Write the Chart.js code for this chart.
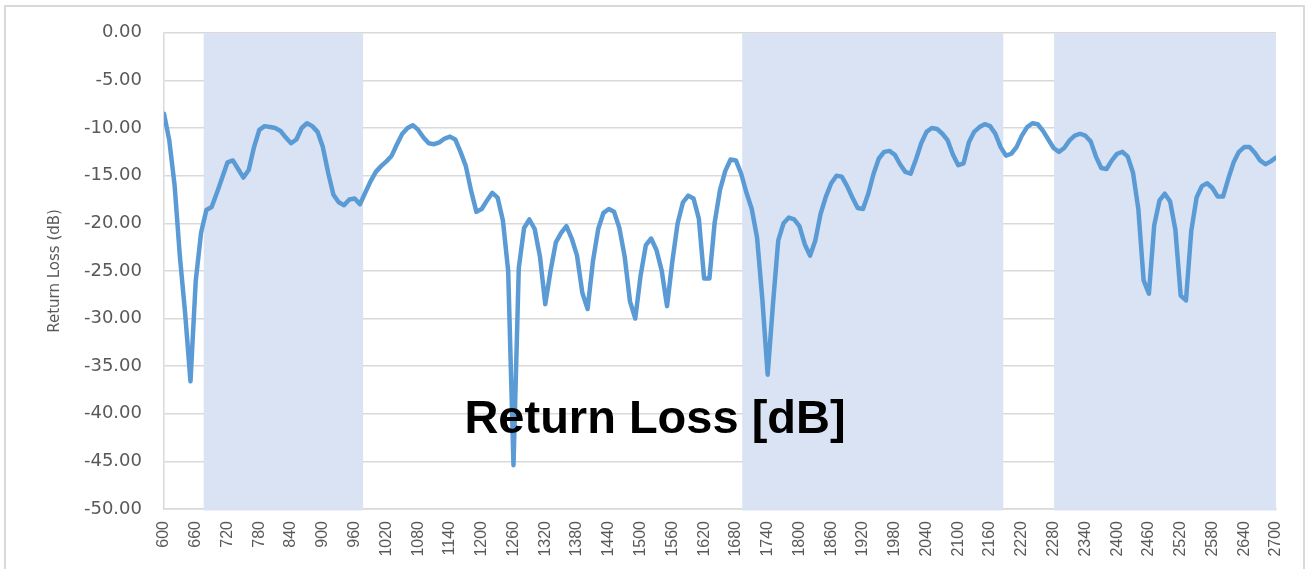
<!DOCTYPE html>
<html>
<head>
<meta charset="utf-8">
<script src="https://cdn.jsdelivr.net/npm/chart.js@4/dist/chart.umd.min.js"></script>
<style>
html,body{margin:0;padding:0;background:#fff;}
#wrap{position:relative;width:1309px;height:569px;}
</style>
</head>
<body>
<div id="wrap"><canvas id="c" width="1309" height="569"></canvas></div>
<script>
const frequencies = [
 600,610,620,630,640,650,660,670,680,690,
 700,710,720,730,740,750,760,770,780,790,
 800,810,820,830,840,850,860,870,880,890,
 900,910,920,930,940,950,960,970,980,990,
 1000,1010,1020,1030,1040,1050,1060,1070,1080,1090,
 1100,1110,1120,1130,1140,1150,1160,1170,1180,1190,
 1200,1210,1220,1230,1240,1250,1260,1270,1280,1290,
 1300,1310,1320,1330,1340,1350,1360,1370,1380,1390,
 1400,1410,1420,1430,1440,1450,1460,1470,1480,1490,
 1500,1510,1520,1530,1540,1550,1560,1570,1580,1590,
 1600,1610,1620,1630,1640,1650,1660,1670,1680,1690,
 1700,1710,1720,1730,1740,1750,1760,1770,1780,1790,
 1800,1810,1820,1830,1840,1850,1860,1870,1880,1890,
 1900,1910,1920,1930,1940,1950,1960,1970,1980,1990,
 2000,2010,2020,2030,2040,2050,2060,2070,2080,2090,
 2100,2110,2120,2130,2140,2150,2160,2170,2180,2190,
 2200,2210,2220,2230,2240,2250,2260,2270,2280,2290,
 2300,2310,2320,2330,2340,2350,2360,2370,2380,2390,
 2400,2410,2420,2430,2440,2450,2460,2470,2480,2490,
 2500,2510,2520,2530,2540,2550,2560,2570,2580,2590,
 2600,2610,2620,2630,2640,2650,2660,2670,2680,2690,
 2700
];
const returnLoss = [
 -8.5,-11.3,-16.0,-23.5,-29.5,-36.6,-26.0,-21.0,-18.6,-18.3,
 -16.8,-15.2,-13.6,-13.4,-14.3,-15.2,-14.4,-12.0,-10.2,-9.8,
 -9.9,-10.0,-10.3,-11.0,-11.6,-11.2,-10.0,-9.5,-9.8,-10.4,
 -12.0,-14.7,-17.0,-17.8,-18.1,-17.5,-17.4,-18.0,-16.8,-15.6,
 -14.6,-14.0,-13.5,-12.9,-11.7,-10.6,-10.0,-9.7,-10.2,-11.0,
 -11.6,-11.7,-11.5,-11.1,-10.9,-11.2,-12.5,-14.0,-16.6,-18.8,
 -18.5,-17.6,-16.8,-17.3,-19.7,-25.0,-45.4,-24.7,-20.5,-19.6,
 -20.6,-23.5,-28.5,-25.0,-22.0,-21.0,-20.3,-21.6,-23.4,-27.3,
 -29.0,-24.0,-20.6,-18.9,-18.5,-18.8,-20.5,-23.5,-28.2,-30.0,
 -25.5,-22.3,-21.6,-22.8,-25.0,-28.7,-24.0,-20.0,-17.8,-17.1,
 -17.4,-19.5,-25.8,-25.8,-19.9,-16.5,-14.5,-13.3,-13.4,-14.8,
 -16.8,-18.5,-21.5,-28.0,-35.9,-28.5,-21.8,-20.0,-19.4,-19.6,
 -20.3,-22.2,-23.4,-21.8,-19.0,-17.2,-15.8,-15.0,-15.1,-16.1,
 -17.3,-18.4,-18.5,-16.9,-14.8,-13.2,-12.5,-12.4,-12.8,-13.8,
 -14.6,-14.8,-13.3,-11.6,-10.4,-10.0,-10.1,-10.6,-11.3,-12.8,
 -13.9,-13.7,-11.5,-10.4,-9.9,-9.6,-9.8,-10.6,-12.0,-12.9,
 -12.7,-12.0,-10.8,-9.9,-9.5,-9.6,-10.3,-11.2,-12.1,-12.5,
 -12.1,-11.3,-10.8,-10.6,-10.8,-11.4,-13.0,-14.2,-14.3,-13.4,
 -12.7,-12.5,-13.0,-14.7,-18.5,-26.0,-27.4,-20.2,-17.6,-16.9,
 -17.7,-20.7,-27.6,-28.1,-20.8,-17.3,-16.1,-15.8,-16.3,-17.2,
 -17.2,-15.3,-13.6,-12.5,-12.0,-12.0,-12.6,-13.4,-13.8,-13.5,
 -13.1
];
const bandStart = [675, 1692, 2281];
const bandEnd = [976, 2185, 2700];
const yTicks = [0, -5, -10, -15, -20, -25, -30, -35, -40, -45, -50];
const chartTitle = 'Return Loss [dB]';
const yAxisTitle = 'Return Loss (dB)';

const points = frequencies.map((f, i) => ({x: f, y: returnLoss[i]}));

const bandPlugin = {
  id: 'bands',
  beforeDatasetsDraw(chart) {
    const {ctx, chartArea, scales} = chart;
    ctx.save();
    ctx.fillStyle = '#dae3f3';
    for (let i = 0; i < bandStart.length; i++) {
      const x1 = scales.x.getPixelForValue(bandStart[i]);
      const x2 = scales.x.getPixelForValue(bandEnd[i]);
      ctx.fillRect(x1, chartArea.top + 0.5, x2 - x1, chartArea.bottom - chartArea.top + 1);
    }
    ctx.restore();
  }
};

const decorPlugin = {
  id: 'decor',
  afterDraw(chart) {
    const {ctx, chartArea} = chart;
    ctx.save();
    ctx.strokeStyle = '#d9d9d9';
    ctx.lineWidth = 2;
    ctx.strokeRect(5, 6, 1299, 570);
    ctx.fillStyle = '#595959';
    ctx.font = '15px "DejaVu Sans"';
    ctx.textAlign = 'center';
    ctx.textBaseline = 'middle';
    ctx.translate(55, (chartArea.top + chartArea.bottom) / 2);
    ctx.rotate(-Math.PI / 2);
    ctx.fillText(yAxisTitle, 0, 0);
    ctx.restore();
    ctx.save();
    ctx.fillStyle = '#000000';
    ctx.font = 'bold 47px "Liberation Sans", Arial, sans-serif';
    ctx.textAlign = 'center';
    ctx.textBaseline = 'alphabetic';
    ctx.fillText(chartTitle, 655, 433);
    ctx.restore();
  }
};

new Chart(document.getElementById('c'), {
  type: 'line',
  data: {
    datasets: [{
      data: points,
      borderColor: '#5b9bd5',
      borderWidth: 4.5,
      pointRadius: 0,
      tension: 0,
      fill: false,
      borderJoinStyle: 'round',
      borderCapStyle: 'round'
    }]
  },
  options: {
    responsive: false,
    animation: false,
    layout: {padding: {left: 0, top: 29, right: 33, bottom: 0}},
    plugins: {legend: {display: false}, tooltip: {enabled: false}, title: {display: false}},
    scales: {
      x: {
        type: 'linear',
        min: 600, max: 2700,
        grid: {display: false, drawTicks: false},
        border: {display: true, color: '#d9d9d9', width: 1.5},
        ticks: {
          stepSize: 60,
          autoSkip: false,
          minRotation: 90, maxRotation: 90,
          padding: 12,
          color: '#595959',
          font: {family: '"Liberation Sans"', size: 16},
          callback: (v) => String(v)
        },
        afterFit: (s) => { s.height = 60; }
      },
      y: {
        min: -50, max: 0,
        afterBuildTicks: (s) => { s.ticks = yTicks.map(v => ({value: v})); },
        grid: {color: '#d9d9d9', lineWidth: 1.5, drawTicks: false},
        border: {display: true, color: '#d9d9d9', width: 1.5},
        ticks: {
          padding: 22,
          color: '#595959',
          font: {family: '"DejaVu Sans"', size: 18},
          callback: (v) => Number(v).toFixed(2)
        },
        afterFit: (s) => { s.width = 164; }
      }
    }
  },
  plugins: [bandPlugin, decorPlugin]
});
</script>
</body>
</html>
